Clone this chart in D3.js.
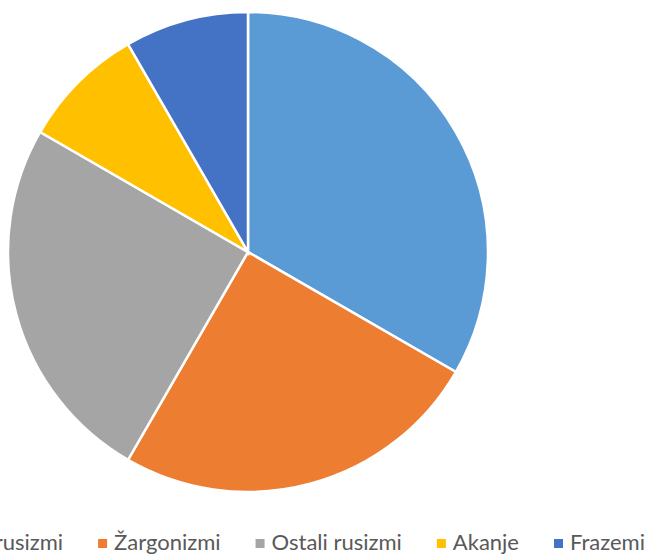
<!DOCTYPE html>
<html>
<head>
<meta charset="utf-8">
<script src="https://cdn.jsdelivr.net/npm/d3@7"></script>
<style>
  body { margin: 0; background: #fff; }
  svg { display: block; }
  .legend text { font-family: Lato, "Open Sans", sans-serif; font-size: 22px; fill: #595959; }
</style>
</head>
<body>
<div id="chart"></div>
<script>
// categories and values
var categories = ["Leksički rusizmi", "Žargonizmi", "Ostali rusizmi", "Akanje", "Frazemi"];
var values = [4, 3, 3, 1, 1];
var colors = ["#5B9BD5", "#ED7D31", "#A5A5A5", "#FFC000", "#4472C4"];

var width = 646, height = 554;
var cx = 248, cy = 252, radius = 240;

var svg = d3.select("#chart").append("svg")
	.attr("width", width)
	.attr("height", height);

var data = categories.map(function(c, i) { return { name: c, value: values[i], color: colors[i] }; });

var pie = d3.pie().sort(null).value(function(d) { return d.value; });
var arc = d3.arc().innerRadius(0).outerRadius(radius);

svg.append("g")
	.attr("transform", "translate(" + cx + "," + cy + ")")
  .selectAll("path")
	.data(pie(data))
  .enter().append("path")
	.attr("d", arc)
	.attr("fill", function(d) { return d.data.color; })
	.attr("stroke", "#fff")
	.attr("stroke-width", 2.5);

// legend, laid out leftward from the last item (first item runs off the left side)
var legend = svg.append("g").attr("class", "legend");
var items = legend.selectAll("g").data(data).enter().append("g");
items.append("rect").attr("width", 9).attr("height", 9).attr("y", 539)
	.attr("fill", function(d) { return d.color; });
items.append("text").attr("x", 16).attr("y", 550).text(function(d) { return d.name; });

var x0 = 554, gap = 35;
var nodes = items.nodes();
for (var i = nodes.length - 1; i >= 0; i--) {
	d3.select(nodes[i]).attr("transform", "translate(" + x0 + ",0)");
	if (i > 0) {
		var w = 16 + d3.select(nodes[i - 1]).select("text").node().getComputedTextLength();
		x0 -= w + gap;
	}
}
</script>
</body>
</html>
